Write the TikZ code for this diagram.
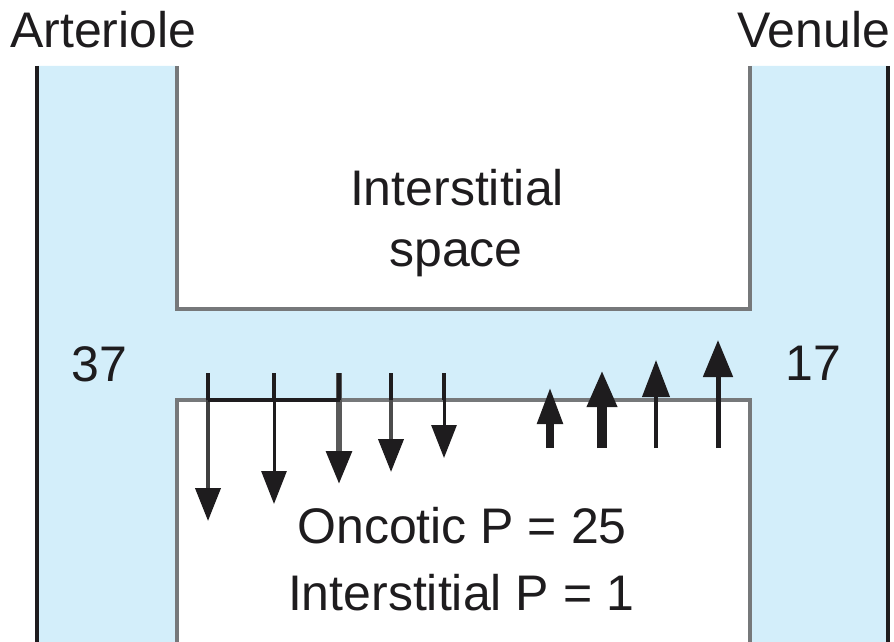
\documentclass[tikz,border=0pt]{standalone}
\usepackage{fontspec}
\setmainfont{Liberation Sans}
\usetikzlibrary{arrows.meta}
\definecolor{plasma}{RGB}{211,238,250}
\definecolor{wallgray}{RGB}{118,120,122}
\definecolor{ink}{RGB}{30,28,30}
\tikzset{
  lbl/.style={inner sep=0pt, font=\fontsize{50}{60}\selectfont, text=ink},
  wall/.style={draw=wallgray, line width=4pt},
  vesselline/.style={draw=ink, line width=4.5pt},
  flowdown/.style={draw=ink, -{Triangle[width=25pt,length=33pt,color=ink]}},
  flowup/.style={draw=ink, -{Triangle[width=#1pt,length=37pt,color=ink]}},
  tick/.style={draw=ink, line width=3.5pt}
}
\begin{document}
\begin{tikzpicture}[x=1pt,y=-1pt]
\useasboundingbox (0,0) rectangle (894,642);
% plasma fill
\fill[plasma] (37,66) -- (177,66) -- (177,309) -- (750,309) -- (750,66) -- (888,66)
  -- (888,642) -- (750,642) -- (750,400) -- (177,400) -- (177,642) -- (37,642) -- cycle;
% vessel outer walls
\coordinate (aTop) at (37,66); \coordinate (aBot) at (37,642);
\coordinate (vTop) at (888,66); \coordinate (vBot) at (888,642);
\draw[vesselline] (aTop) -- (aBot);
\draw[draw=ink, line width=3.5pt] (vTop) -- (vBot);
% tissue walls
\coordinate (t1) at (177,66); \coordinate (t2) at (177,309);
\coordinate (t3) at (750,309); \coordinate (t4) at (750,66);
\coordinate (b1) at (177,642); \coordinate (b2) at (177,400);
\coordinate (b3) at (750,400); \coordinate (b4) at (750,642);
\draw[wall] (t1) -- (t2) -- (t3) -- (t4);
\draw[wall] (b1) -- (b2) -- (b3) -- (b4);
% labels
\node[lbl, anchor=base west] (art) at (10,48) {Arteriole};
\node[lbl, anchor=base west] (ven) at (737,48) {Venule};
\node[lbl, anchor=base] (is1) at (457,205) {Interstitial};
\node[lbl, anchor=base] (is2) at (456,266) {space};
\node[lbl, anchor=base west] (p37) at (71,381) {37};
\node[lbl, anchor=base west] (p17) at (785,380) {17};
\node[lbl, anchor=base] (onc) at (462,543) {Oncotic P = 25};
\node[lbl, anchor=base] (ip) at (461,610) {Interstitial P = 1};
% filtration (down) arrows
\coordinate (d1s) at (208,373); \coordinate (d1e) at (208,521);
\coordinate (d2s) at (274,373); \coordinate (d2e) at (274,504);
\coordinate (d3s) at (339,373); \coordinate (d3e) at (339,484);
\coordinate (d4s) at (391,373); \coordinate (d4e) at (391,472);
\coordinate (d5s) at (444,373); \coordinate (d5e) at (444,458);
\draw[flowdown, draw=black!75, line width=4pt] (d1s) -- (d1e);
\draw[flowdown, line width=3pt] (d2s) -- (d2e);
\draw[flowdown, draw=black!65, line width=6pt] (d3s) -- (d3e);
\draw[flowdown, draw=black!70, line width=4pt] (d4s) -- (d4e);
\draw[flowdown, line width=3pt] (d5s) -- (d5e);
\coordinate (h1) at (208,400); \coordinate (h2) at (340,400);
\draw[tick] (h1) -- (h2);
\coordinate (k1) at (208,400); \coordinate (k2) at (274,400);
\coordinate (k3) at (339,400); \coordinate (k4) at (391,400);
\coordinate (k5) at (444,400);
\draw[tick] (d1s) -- (k1);
\draw[tick] (d2s) -- (k2);
\draw[tick] (d3s) -- (k3);
\draw[tick] (d4s) -- (k4);
\draw[tick] (d5s) -- (k5);
% reabsorption (up) arrows
\coordinate (u1s) at (550,448); \coordinate (u1e) at (550,387);
\coordinate (u2s) at (602,448); \coordinate (u2e) at (602,370);
\coordinate (u3s) at (656,448); \coordinate (u3e) at (656,360);
\coordinate (u4s) at (718,448); \coordinate (u4e) at (718,340);
\draw[flowup=24, line width=8pt] (u1s) -- (u1e);
\draw[flowup=28, line width=10pt] (u2s) -- (u2e);
\draw[flowup=27, line width=4pt] (u3s) -- (u3e);
\draw[flowup=29, line width=5pt] (u4s) -- (u4e);
\end{tikzpicture}
\end{document}
